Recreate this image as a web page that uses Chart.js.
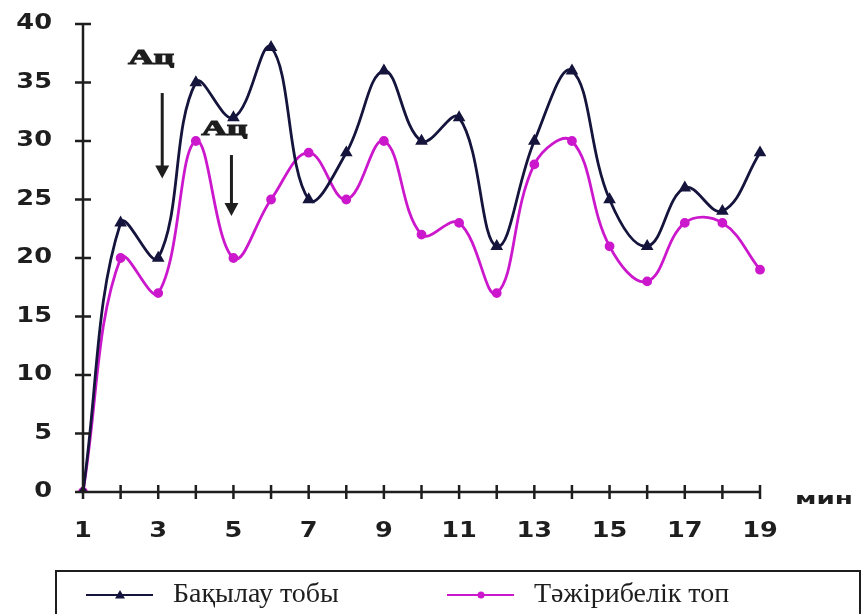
<!DOCTYPE html>
<html>
<head>
<meta charset="utf-8">
<script src="https://cdn.jsdelivr.net/npm/chart.js@4.4.1/dist/chart.umd.min.js"></script>
<style>
    html, body { margin: 0; padding: 0; background: #fff; }
    #wrap { width: 868px; height: 614px; position: relative; overflow: hidden; }
</style>
</head>
<body>
<div id="wrap"><canvas id="pulseChart" width="868" height="614"></canvas></div>
<script>
// ================================
// DATA
// ================================
const minutes = [1, 2, 3, 4, 5, 6, 7, 8, 9, 10, 11, 12, 13, 14, 15, 16, 17, 18, 19];
const controlGroup = [0, 23, 20, 35, 32, 38, 25, 29, 36, 30, 32, 21, 30, 36, 25, 21, 26, 24, 29];
const testGroup = [0, 20, 17, 30, 20, 25, 29, 25, 30, 22, 23, 17, 28, 30, 21, 18, 23, 23, 19];
const seriesNames = ['Бақылау тобы', 'Тәжірибелік топ'];
const yTicks = [0, 5, 10, 15, 20, 25, 30, 35, 40];
const xUnit = 'мин';

// "Ац" marks with arrows: minute, text level, arrow start, arrow end
const marks = [
    { text: 'Ац', x: 3, textY: 37.1, fromY: 34.1, toY: 26.8, dx: -7, ax: 4 },
    { text: 'Ац', x: 5, textY: 31.0, fromY: 28.8, toY: 23.6, dx: -9, ax: -2 }
];

// ================================
// STYLE
// ================================
const DARK = '#14143c';
const PINK = '#cc18cc';
const INK = '#1e1e1e';
const TICK_FONT = 'bold 21px "DejaVu Sans", sans-serif';
const LEGEND_FONT = '28px "Liberation Serif", serif';

// wide text, stretched horizontally around its anchor
function wideText(ctx, text, x, y, align, sx) {
    ctx.save();
    ctx.translate(x, y);
    ctx.scale(sx, 1);
    ctx.textAlign = align;
    ctx.fillText(text, 0, 0);
    ctx.restore();
}

// ================================
// AXES + ANNOTATIONS
// ================================
const axisPlugin = {
    id: 'axisPlugin',
    afterDatasetsDraw(chart) {
        const { ctx, scales: { x, y } } = chart;
        const x0 = x.getPixelForValue(0);
        const y0 = y.getPixelForValue(0);
        const xEnd = x.getPixelForValue(minutes.length - 1);
        const yTop = y.getPixelForValue(40);

        ctx.save();
        ctx.strokeStyle = INK;
        ctx.lineWidth = 2.5;
        ctx.beginPath();
        ctx.moveTo(x0, y0);
        ctx.lineTo(x0, yTop);
        ctx.moveTo(x0, y0);
        ctx.lineTo(xEnd, y0);
        // y ticks crossing the axis
        yTicks.forEach(v => {
            const py = y.getPixelForValue(v);
            ctx.moveTo(x0 - 8, py);
            ctx.lineTo(x0 + 8, py);
        });
        // x ticks crossing the axis
        minutes.forEach((m, i) => {
            const px = x.getPixelForValue(i);
            ctx.moveTo(px, y0 - 7);
            ctx.lineTo(px, y0 + 7);
        });
        ctx.stroke();

        // tick labels
        ctx.fillStyle = INK;
        ctx.font = TICK_FONT;
        ctx.textBaseline = 'middle';
        yTicks.forEach(v => {
            wideText(ctx, String(v), x0 - 31, y.getPixelForValue(v), 'right', 1.22);
        });
        minutes.forEach((m, i) => {
            if (i % 2 === 0) {
                wideText(ctx, String(m), x.getPixelForValue(i), y0 + 40, 'center', 1.22);
            }
        });

        // axis unit
        ctx.font = 'bold 15px "DejaVu Sans", sans-serif';
        wideText(ctx, xUnit, xEnd + 35, y0 + 8, 'left', 1.75);

        // arrows
        marks.forEach(m => {
            const px = x.getPixelForValue(m.x - 1);
            ctx.font = 'bold 22px "Liberation Serif", serif';
            ctx.lineWidth = 1.2;
            ctx.strokeStyle = INK;
            ctx.save();
            ctx.translate(px + m.dx, y.getPixelForValue(m.textY));
            ctx.scale(1.6, 1);
            ctx.textAlign = 'center';
            ctx.fillText(m.text, 0, 0);
            ctx.strokeText(m.text, 0, 0);
            ctx.restore();

            const ax = px + m.ax;
            const top = y.getPixelForValue(m.fromY);
            const tip = y.getPixelForValue(m.toY);
            ctx.beginPath();
            ctx.lineWidth = 3;
            ctx.moveTo(ax, top);
            ctx.lineTo(ax, tip - 10);
            ctx.stroke();
            ctx.beginPath();
            ctx.moveTo(ax - 7, tip - 13);
            ctx.lineTo(ax + 7, tip - 13);
            ctx.lineTo(ax, tip);
            ctx.closePath();
            ctx.fill();
        });
        ctx.restore();
    }
};

const legendPlugin = {
    id: 'boxLegend',
    afterDraw(chart) {
        const { ctx } = chart;
        ctx.save();
        ctx.strokeStyle = INK;
        ctx.lineWidth = 2;
        ctx.strokeRect(56, 571, 804, 60);

        const items = [
            { x: 86, color: DARK, style: 'triangle', r: 5 },
            { x: 447, color: PINK, style: 'circle', r: 3.5 }
        ];
        items.forEach((it, i) => {
            const yy = 595;
            ctx.strokeStyle = it.color;
            ctx.fillStyle = it.color;
            ctx.lineWidth = 2;
            ctx.beginPath();
            ctx.moveTo(it.x, yy);
            ctx.lineTo(it.x + 67, yy);
            ctx.stroke();
            const cx = it.x + 34;
            ctx.beginPath();
            if (it.style === 'triangle') {
                ctx.moveTo(cx, yy - it.r);
                ctx.lineTo(cx + it.r, yy + it.r * 0.7);
                ctx.lineTo(cx - it.r, yy + it.r * 0.7);
                ctx.closePath();
            } else {
                ctx.arc(cx, yy, it.r, 0, Math.PI * 2);
            }
            ctx.fill();

            ctx.fillStyle = INK;
            ctx.font = LEGEND_FONT;
            ctx.textAlign = 'left';
            ctx.textBaseline = 'middle';
            ctx.fillText(seriesNames[i], it.x + 87, yy);
        });
        ctx.restore();
    }
};

// ================================
// CHART
// ================================
new Chart(document.getElementById('pulseChart'), {
    type: 'line',
    data: {
        labels: minutes,
        datasets: [
            {
                label: seriesNames[0],
                data: controlGroup,
                borderColor: DARK,
                backgroundColor: DARK,
                borderWidth: 2.8,
                tension: 0.4,
                pointStyle: 'triangle',
                pointRadius: 4.5
            },
            {
                label: seriesNames[1],
                data: testGroup,
                borderColor: PINK,
                backgroundColor: PINK,
                borderWidth: 2.8,
                tension: 0.4,
                pointStyle: 'circle',
                pointRadius: 3.5
            }
        ]
    },
    options: {
        responsive: false,
        animation: false,
        layout: { padding: { top: 24, right: 108, left: 0, bottom: 0 } },
        plugins: { legend: { display: false }, tooltip: { enabled: false } },
        scales: {
            x: {
                offset: false,
                grid: { display: false },
                border: { display: false },
                ticks: { display: false },
                afterFit(scale) { scale.height = 122; }
            },
            y: {
                min: 0,
                max: 40,
                grid: { display: false },
                border: { display: false },
                ticks: { display: false, stepSize: 5 },
                afterFit(scale) { scale.width = 83; }
            }
        }
    },
    plugins: [axisPlugin, legendPlugin]
});
</script>
</body>
</html>
